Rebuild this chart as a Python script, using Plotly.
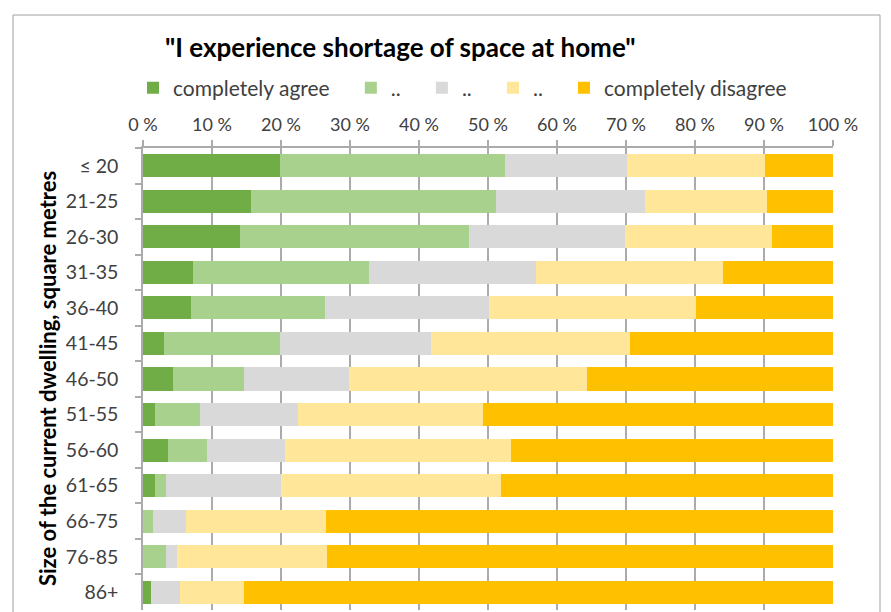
import plotly.graph_objects as go

categories = ["≤ 20", "21-25", "26-30", "31-35", "36-40", "41-45", "46-50",
              "51-55", "56-60", "61-65", "66-75", "76-85", "86+"]

completely_agree = [19.9, 15.7, 14.0, 7.3, 7.0, 3.1, 4.4, 1.7, 3.6, 1.7, 0.0, 0.0, 1.2]
agree = [32.6, 35.4, 33.3, 25.4, 19.4, 16.8, 10.2, 6.6, 5.7, 1.6, 1.5, 3.3, 0.0]
neutral = [17.6, 21.6, 22.5, 24.2, 23.7, 21.8, 15.3, 14.2, 11.3, 16.7, 4.7, 1.6, 4.1]
disagree = [20.0, 17.7, 21.3, 27.2, 30.0, 28.9, 34.5, 26.8, 32.7, 31.9, 20.3, 21.8, 9.3]
completely_disagree = [9.9, 9.6, 8.9, 15.9, 19.9, 29.4, 35.6, 50.7, 46.7, 48.1, 73.5, 73.3, 85.4]

NB = "\u00a0"
series_names = ["completely agree" + NB * 3, ".." + NB * 3, ".." + NB * 3, ".." + NB * 3, "completely disagree"]
series_values = [completely_agree, agree, neutral, disagree, completely_disagree]
colors = ["#70AD47", "#A9D18E", "#D9D9D9", "#FFE699", "#FFC000"]

tick_vals = [0, 10, 20, 30, 40, 50, 60, 70, 80, 90, 100]
tick_text = ["0 %", "10 %", "20 %", "30 %", "40 %", "50 %", "60 %", "70 %", "80 %", "90 %", "100 %"]

title_text = '"I experience shortage of space at home"'
y_title = "Size of the current dwelling, square metres"

FONT = "Lato, Carlito, Calibri, sans-serif"

fig = go.Figure()
for name, vals, col in zip(series_names, series_values, colors):
    fig.add_trace(go.Bar(
        y=categories, x=vals, name=name, orientation="h",
        marker=dict(color=col, line=dict(width=0)),
        hoverinfo="x+y",
    ))

# page body has an 8px offset; figure coordinates below are screenshot minus 8
OFF = 8
W, H = 891 - OFF, 612 - OFF
L, T = 143 - OFF, 148 - OFF
R = W - (833 - OFF)
B = H - (610 - OFF)
pw = W - L - R
ph = H - T - B

def px(x):
    return (x - OFF - L) / pw

def py(y):
    return 1 + (T - (y - OFF)) / ph

fig.update_layout(
    width=W, height=H,
    barmode="stack", bargap=0.35,
    plot_bgcolor="white", paper_bgcolor="white",
    margin=dict(l=L, r=R, t=T, b=B, autoexpand=False),
    font=dict(family=FONT, color="#404040", size=18),
    showlegend=True,
    legend=dict(
        orientation="h", x=px(133), xanchor="left",
        y=py(88), yanchor="middle",
        font=dict(size=21, color="#404040"),
        traceorder="normal", itemwidth=30,
    ),
    xaxis=dict(
        side="top", range=[0, 100], tickvals=tick_vals, ticktext=tick_text,
        showgrid=True, gridcolor="#ABABAB", gridwidth=1.5,
        ticks="outside", ticklen=6, tickcolor="#ABABAB", tickwidth=1.5,
        showline=True, linecolor="#ABABAB", linewidth=1.5,
        zeroline=False, tickfont=dict(size=18, color="#404040"),
        ticklabelstandoff=2, fixedrange=True, automargin=False,
    ),
    yaxis=dict(
        autorange="reversed", type="category",
        ticks="outside", ticklen=6, tickcolor="#ABABAB", tickwidth=1.5,
        tickson="boundaries",
        showline=True, linecolor="#ABABAB", linewidth=1.5,
        showgrid=False, tickfont=dict(size=19.5, color="#404040"),
        ticklabelstandoff=19, fixedrange=True, automargin=False,
    ),
    annotations=[
        dict(text=title_text, xref="paper", yref="paper",
             x=px(400), y=py(47), xanchor="center", yanchor="middle",
             showarrow=False, font=dict(size=26, color="#000000", family=FONT, weight="bold")),
        dict(text=y_title, xref="paper", yref="paper",
             x=px(47), y=0.5, xanchor="center", yanchor="middle", textangle=-90,
             showarrow=False, font=dict(size=22, color="#000000", family=FONT, weight="bold")),
    ],
    shapes=[
        dict(type="rect", xref="paper", yref="paper",
             x0=px(13), x1=px(880), y0=-0.2, y1=py(15),
             line=dict(color="#A0A0A0", width=1), fillcolor="rgba(0,0,0,0)", layer="below"),
    ],
)

fig.write_html("out.html")
